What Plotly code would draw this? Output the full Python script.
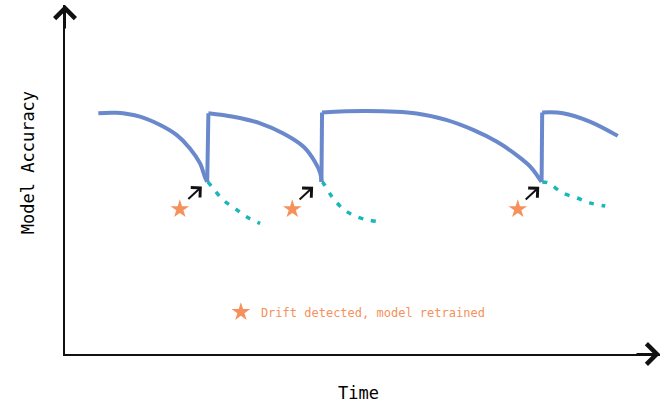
import plotly.graph_objects as go

# ---- data (time 0..100, accuracy 0..100) ----
acc_t = [
    [5.6, 8.7, 12.6, 16.0, 18.8, 21.0, 22.7, 23.5, 23.9],
    [24.1, 28.3, 32.8, 36.7, 40.1, 42.0, 42.9, 43.1],
    [43.2, 50.7, 59.1, 64.2, 68.6, 72.6, 75.9, 78.2, 79.5, 80.1],
    [80.2, 83.7, 88.2, 92.9],
]
acc_v = [
    [69.0, 69.1, 68.0, 65.6, 62.7, 58.9, 54.6, 50.8, 49.3],
    [69.0, 68.0, 66.1, 63.2, 59.4, 55.1, 51.8, 49.3],
    [69.2, 69.6, 68.9, 67.0, 64.2, 60.8, 57.0, 53.7, 50.8, 49.3],
    [69.2, 69.0, 66.6, 62.5],
]
drift_t = [
    [24.0, 24.7, 26.6, 28.6, 30.5, 32.8],
    [43.2, 43.4, 44.9, 46.6, 48.4, 50.9, 53.3],
    [80.2, 81.2, 83.7, 86.1, 88.2, 90.8],
]
drift_v = [
    [49.3, 47.9, 44.1, 41.7, 39.3, 37.4],
    [49.3, 49.0, 45.0, 41.8, 39.8, 38.4, 37.8],
    [49.3, 49.0, 46.1, 44.7, 43.3, 42.4],
]
star_t = [19.3, 38.2, 76.1]
star_v = [41.5, 41.5, 41.5]
arrow_t = [23.0, 41.7, 79.7]
arrow_v = [48.0, 47.9, 47.9]
legend_label = "Drift detected, model retrained"
x_title = "Time"
y_title = "Model Accuracy"

BLUE = "#6a89cc"
TEAL = "#19b7b7"
ORANGE = "#f5915c"
FONT = "DejaVu Sans Mono"

fig = go.Figure()

for i in range(len(drift_t)):
    fig.add_trace(go.Scatter(
        x=drift_t[i], y=drift_v[i], mode="lines", line_shape="spline",
        line=dict(color=TEAL, width=3.5, dash="5px,8px"),
        showlegend=False, hoverinfo="skip"))

for i in range(len(acc_t)):
    fig.add_trace(go.Scatter(
        x=acc_t[i], y=acc_v[i], mode="lines", line_shape="spline",
        line=dict(color=BLUE, width=4), showlegend=False, hoverinfo="skip"))
    if i + 1 < len(acc_t):
        fig.add_trace(go.Scatter(
            x=[acc_t[i][-1], acc_t[i + 1][0]], y=[acc_v[i][-1], acc_v[i + 1][0]],
            mode="lines", line=dict(color=BLUE, width=4),
            showlegend=False, hoverinfo="skip"))

fig.add_trace(go.Scatter(
    x=star_t, y=star_v, mode="markers", name=legend_label,
    marker=dict(symbol="star", size=14, color=ORANGE, line=dict(width=0)),
    showlegend=True, hoverinfo="skip"))

annotations = []
for t, v in zip(arrow_t, arrow_v):
    annotations.append(dict(
        x=t, y=v, xref="x", yref="y", ax=-15, ay=14, text="",
        showarrow=True, arrowhead=4, arrowsize=1.3, arrowwidth=2, arrowcolor="#111"))

# axis arrowheads
annotations.append(dict(x=0, y=1, xref="paper", yref="paper", ax=0, ay=25, text="",
                        showarrow=True, arrowhead=4, arrowsize=2, arrowwidth=2,
                        arrowcolor="#111"))
annotations.append(dict(x=1, y=0, xref="paper", yref="paper", ax=-25, ay=0, text="",
                        showarrow=True, arrowhead=4, arrowsize=2, arrowwidth=2,
                        arrowcolor="#111"))
# axis titles
annotations.append(dict(x=-0.062, y=0.547, xref="paper", yref="paper", text=y_title,
                        xanchor="center", yanchor="middle",
                        showarrow=False, textangle=-90,
                        font=dict(family=FONT, size=17, color="#000")))
annotations.append(dict(x=0.493, y=-0.112, xref="paper", yref="paper", text=x_title,
                        xanchor="center", yanchor="middle",
                        showarrow=False, font=dict(family=FONT, size=17, color="#000")))

fig.update_layout(
    width=665, height=403,
    margin=dict(l=65, r=5, t=5, b=49, autoexpand=False),
    paper_bgcolor="white", plot_bgcolor="white",
    xaxis=dict(range=[0, 100], showline=True, linewidth=2, linecolor="#111",
               showgrid=False, zeroline=False, showticklabels=False, ticks=""),
    yaxis=dict(range=[0, 100], showline=True, linewidth=2, linecolor="#111",
               showgrid=False, zeroline=False, showticklabels=False, ticks=""),
    legend=dict(x=0.262, y=0.12, xanchor="left", yanchor="middle",
                bgcolor="rgba(0,0,0,0)",
                font=dict(family=FONT, size=12, color=ORANGE)),
    annotations=annotations,
    font=dict(family=FONT),
)

fig.write_html("out.html", config={"displayModeBar": False},
               post_script="document.body.style.margin='0';document.body.style.overflow='hidden';")
